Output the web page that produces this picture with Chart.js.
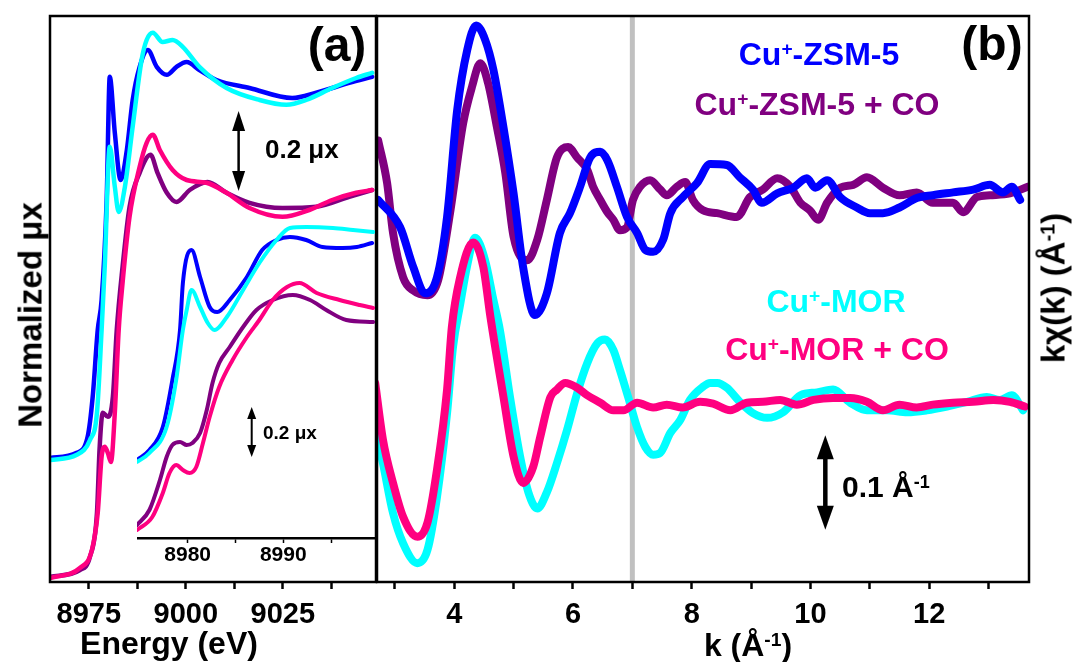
<!DOCTYPE html>
<html>
<head>
<meta charset="utf-8">
<script src="https://cdn.jsdelivr.net/npm/chart.js@4.4.1/dist/chart.umd.min.js"></script>
<style>
  body { margin: 0; background: #fff; }
  #wrap { position: relative; width: 1076px; height: 662px; overflow: hidden;
          font-family: 'Liberation Sans', Arial, sans-serif; font-weight: bold; color: #000; }
  canvas { position: absolute; }
  .t { position: absolute; white-space: nowrap; line-height: 1; transform: translate(-50%, -50%); }
  .l { position: absolute; white-space: nowrap; line-height: 1; transform: translateY(-50%); }
  .r { transform: translate(-50%, -50%) rotate(-90deg); }
  sup { font-size: 0.6em; position: relative; top: -0.5em; vertical-align: baseline; line-height: 0; }
</style>
</head>
<body>
<div id="wrap">
  <canvas id="cA" width="378" height="662" style="left:0;top:0"></canvas>
  <canvas id="cIn" width="240" height="380" style="left:137px;top:200px"></canvas>
  <canvas id="cB" width="706" height="662" style="left:370px;top:0"></canvas>

  <div class="t r" style="left:30px;top:315px;font-size:33px">Normalized &mu;x</div>
  <div class="t" style="left:169px;top:643px;font-size:32px">Energy (eV)</div>
  <div class="t" style="left:748px;top:645px;font-size:32px">k (&Aring;<sup>-1</sup>)</div>
  <div class="t r" style="left:1053px;top:288px;font-size:33px">k&chi;(k) (&Aring;<sup>-1</sup>)</div>
  <div class="t" style="left:337px;top:45px;font-size:48px">(a)</div>
  <div class="t" style="left:992px;top:44px;font-size:48px">(b)</div>

  <div class="t" style="left:819px;top:54px;font-size:32px;color:#0000FF">Cu<sup>+</sup>-ZSM-5</div>
  <div class="t" style="left:817px;top:104px;font-size:32px;color:#800080">Cu<sup>+</sup>-ZSM-5 + CO</div>
  <div class="t" style="left:836px;top:301px;font-size:32px;color:#00FFFF">Cu<sup>+</sup>-MOR</div>
  <div class="t" style="left:837px;top:349px;font-size:32px;color:#FF0080">Cu<sup>+</sup>-MOR + CO</div>

  <div class="l" style="left:265px;top:149px;font-size:26px">0.2 &mu;x</div>
  <div class="l" style="left:263px;top:432px;font-size:19px">0.2 &mu;x</div>
  <div class="l" style="left:842px;top:487px;font-size:30px">0.1 &Aring;<sup>-1</sup></div>
</div>

<script>
// ---- panel (a): XANES, main view (energy in eV, normalized mu x) ----
const eZsmA = [8965.0, 8971.9, 8974.7, 8976.0, 8977.3, 8978.3, 8979.6, 8980.4, 8981.7, 8983.2, 8984.8, 8986.3, 8988.1, 8990.2, 8992.5, 8995.1, 8997.6, 9000.2, 9003.5, 9007.9, 9016.4, 9027.4, 9033.6, 9042.1, 9048.0];
const muZsmA = [0.010, 0.023, 0.063, 0.163, 0.330, 0.405, 0.655, 0.963, 0.823, 0.705, 0.780, 0.905, 0.988, 1.030, 0.988, 0.968, 0.988, 1.000, 0.980, 0.955, 0.935, 0.910, 0.923, 0.948, 0.963];
const eMorA = [8965.0, 8971.9, 8975.3, 8977.1, 8978.3, 8979.1, 8980.4, 8981.7, 8982.7, 8984.3, 8986.3, 8988.6, 8989.9, 8991.5, 8994.0, 8996.6, 8999.2, 9003.5, 9010.5, 9019.0, 9025.9, 9031.0, 9037.7, 9043.9, 9048.0];
const muMorA = [0.005, 0.018, 0.055, 0.123, 0.330, 0.488, 0.788, 0.688, 0.625, 0.688, 0.838, 1.005, 1.055, 1.073, 1.050, 1.055, 1.038, 0.988, 0.935, 0.905, 0.893, 0.905, 0.935, 0.960, 0.973];
const eZsmCoA = [8965.0, 8972.7, 8975.3, 8977.1, 8977.8, 8978.6, 8979.9, 8981.2, 8982.2, 8983.7, 8985.5, 8988.1, 8990.9, 8992.7, 8995.1, 8997.6, 9001.0, 9005.6, 9010.5, 9016.4, 9024.9, 9033.6, 9042.1, 9048.0];
const muZsmCoA = [0.013, 0.030, 0.063, 0.173, 0.338, 0.423, 0.413, 0.463, 0.630, 0.788, 0.938, 1.023, 1.068, 1.023, 0.973, 0.950, 0.980, 1.000, 0.973, 0.948, 0.935, 0.938, 0.963, 0.980];
const eMorCoA = [8965.0, 8972.7, 8975.8, 8977.3, 8978.3, 8979.1, 8979.9, 8980.7, 8981.7, 8982.7, 8983.7, 8985.5, 8988.1, 8989.9, 8991.5, 8993.3, 8996.6, 9000.2, 9005.3, 9010.5, 9016.4, 9024.9, 9031.8, 9037.7, 9043.9, 9048.0];
const muMorCoA = [0.010, 0.035, 0.080, 0.173, 0.313, 0.338, 0.323, 0.300, 0.423, 0.630, 0.748, 0.913, 1.038, 1.098, 1.118, 1.080, 1.030, 1.005, 0.998, 0.973, 0.935, 0.913, 0.930, 0.955, 0.973, 0.980];
const offsetA = { bare: 0.3, co: 0 };
const ticksA = [8975, 8987.5, 9000, 9012.5, 9025, 9037.5];
const labelsA = [8975, 9000, 9025];

// ---- panel (a): inset, pre-edge zoom ----
const eZsmIn = [8974.7, 8976.0, 8977.4, 8978.4, 8979.2, 8979.5, 8980.4, 8981.3, 8982.3, 8983.1, 8984.4, 8986.2, 8987.8, 8989.3, 8990.7, 8992.4, 8994.1, 8996.2, 8997.7, 8999.3];
const muZsmIn = [0.012, 0.052, 0.144, 0.332, 0.532, 0.720, 0.852, 0.744, 0.624, 0.604, 0.652, 0.744, 0.852, 0.892, 0.904, 0.892, 0.864, 0.860, 0.864, 0.880];
const eMorIn = [8974.7, 8976.0, 8977.8, 8978.8, 8979.5, 8979.9, 8980.4, 8981.3, 8982.1, 8982.8, 8984.1, 8985.8, 8987.5, 8989.3, 8990.7, 8992.4, 8995.2, 8997.3, 8999.4];
const muMorIn = [0.004, 0.040, 0.144, 0.332, 0.532, 0.612, 0.692, 0.624, 0.560, 0.532, 0.584, 0.692, 0.800, 0.892, 0.940, 0.944, 0.940, 0.932, 0.924];
const eZsmCoIn = [8974.7, 8976.0, 8977.1, 8977.8, 8978.4, 8979.2, 8979.9, 8980.5, 8981.3, 8982.0, 8982.6, 8983.3, 8984.4, 8985.8, 8987.2, 8988.9, 8991.0, 8992.8, 8994.5, 8996.6, 8999.4];
const muZsmCoIn = [0.052, 0.112, 0.232, 0.324, 0.372, 0.384, 0.372, 0.380, 0.420, 0.512, 0.620, 0.700, 0.764, 0.844, 0.912, 0.952, 0.972, 0.952, 0.912, 0.872, 0.864];
const eMorCoIn = [8974.7, 8976.3, 8977.4, 8978.1, 8978.8, 8979.5, 8980.2, 8980.9, 8981.6, 8982.3, 8983.3, 8984.7, 8986.2, 8987.5, 8988.9, 8990.4, 8991.7, 8993.5, 8995.9, 8998.0, 8999.4];
const muMorCoIn = [0.032, 0.084, 0.180, 0.260, 0.292, 0.272, 0.260, 0.284, 0.380, 0.484, 0.604, 0.712, 0.804, 0.872, 0.952, 1.004, 1.020, 0.980, 0.952, 0.932, 0.920];
const offsetIn = { bare: 0.3, co: 0 };
const ticksIn = [8980, 8985, 8990, 8995];
const labelsIn = [8980, 8990];

// ---- panel (b): EXAFS k*chi(k) ----
const kZsm = [2.72, 3.09, 3.31, 3.51, 3.71, 3.88, 4.05, 4.22, 4.37, 4.52, 4.66, 4.83, 5.00, 5.16, 5.36, 5.56, 5.78, 5.95, 6.12, 6.29, 6.46, 6.58, 6.74, 6.91, 7.08, 7.22, 7.35, 7.52, 7.64, 7.85, 8.09, 8.31, 8.59, 8.81, 9.03, 9.18, 9.44, 9.71, 9.94, 10.08, 10.28, 10.50, 10.78, 11.00, 11.22, 11.50, 11.79, 12.06, 12.40, 12.74, 13.02, 13.24, 13.39, 13.53];
const chiZsm = [-0.005, -0.034, -0.076, -0.104, -0.087, -0.023, 0.090, 0.154, 0.180, 0.165, 0.133, 0.072, 0.002, -0.076, -0.127, -0.104, -0.040, -0.019, 0.009, 0.040, 0.046, 0.037, 0.009, -0.023, -0.040, -0.058, -0.060, -0.047, -0.019, -0.002, 0.013, 0.033, 0.032, 0.019, 0.006, -0.008, 0.002, 0.008, 0.018, 0.008, 0.016, -0.002, -0.013, -0.019, -0.019, -0.013, -0.003, 0.000, 0.003, 0.006, 0.011, 0.003, 0.009, -0.005];
const kZsmCo = [2.72, 2.87, 2.97, 3.14, 3.31, 3.55, 3.73, 3.93, 4.15, 4.30, 4.44, 4.57, 4.72, 4.86, 5.00, 5.23, 5.40, 5.56, 5.73, 5.92, 6.07, 6.24, 6.34, 6.46, 6.58, 6.68, 6.79, 6.91, 7.01, 7.13, 7.30, 7.47, 7.58, 7.75, 7.89, 8.02, 8.19, 8.43, 8.76, 8.98, 9.20, 9.44, 9.66, 9.83, 9.99, 10.13, 10.28, 10.50, 10.72, 10.95, 11.22, 11.50, 11.79, 12.06, 12.40, 12.57, 12.80, 13.02, 13.36, 13.66];
const chiZsmCo = [0.058, 0.013, -0.040, -0.087, -0.101, -0.106, -0.090, -0.019, 0.076, 0.115, 0.140, 0.119, 0.072, 0.024, -0.044, -0.069, -0.047, -0.005, 0.040, 0.051, 0.040, 0.027, 0.009, -0.005, -0.018, -0.026, -0.037, -0.034, -0.005, 0.009, 0.016, 0.006, 0.000, 0.009, 0.014, -0.005, -0.016, -0.019, -0.023, -0.002, 0.006, 0.018, 0.009, -0.008, -0.016, -0.026, -0.008, 0.008, 0.011, 0.019, 0.008, 0.000, 0.003, -0.008, -0.008, -0.018, -0.002, 0.000, 0.002, 0.009];
const kMor = [2.64, 2.80, 2.97, 3.14, 3.38, 3.55, 3.71, 3.88, 3.98, 4.10, 4.22, 4.35, 4.52, 4.66, 4.77, 4.94, 5.11, 5.25, 5.40, 5.56, 5.73, 5.90, 6.07, 6.24, 6.41, 6.54, 6.68, 6.79, 6.93, 7.08, 7.22, 7.35, 7.47, 7.64, 7.81, 7.97, 8.19, 8.31, 8.43, 8.59, 8.81, 9.03, 9.27, 9.54, 9.83, 10.11, 10.38, 10.67, 10.95, 11.29, 11.63, 11.96, 12.30, 12.64, 12.97, 13.19, 13.39, 13.58];
const chiMor = [-0.018, -0.064, -0.117, -0.149, -0.170, -0.156, -0.100, -0.011, 0.059, 0.104, 0.146, 0.175, 0.151, 0.109, 0.077, 0.006, -0.057, -0.095, -0.112, -0.095, -0.064, -0.029, 0.010, 0.042, 0.063, 0.067, 0.056, 0.035, 0.006, -0.026, -0.047, -0.055, -0.053, -0.032, -0.018, 0.003, 0.017, 0.021, 0.021, 0.016, 0.001, -0.011, -0.016, -0.010, 0.008, 0.011, 0.014, 0.000, -0.008, -0.008, -0.010, -0.008, -0.004, 0.001, 0.006, 0.003, 0.008, -0.008];
const kMorCo = [2.67, 2.80, 2.97, 3.14, 3.38, 3.55, 3.71, 3.88, 3.96, 4.10, 4.32, 4.49, 4.61, 4.83, 5.00, 5.16, 5.33, 5.45, 5.62, 5.73, 5.87, 6.07, 6.24, 6.46, 6.68, 6.85, 7.08, 7.35, 7.58, 7.85, 8.14, 8.36, 8.65, 8.93, 9.20, 9.49, 9.77, 10.05, 10.38, 10.67, 10.95, 11.22, 11.50, 11.79, 12.06, 12.40, 12.74, 13.08, 13.36, 13.61];
const chiMorCo = [0.021, -0.039, -0.085, -0.121, -0.142, -0.127, -0.071, 0.014, 0.080, 0.133, 0.170, 0.144, 0.091, 0.006, -0.057, -0.085, -0.068, -0.036, 0.006, 0.014, 0.021, 0.016, 0.008, 0.000, -0.008, -0.008, 0.000, -0.005, -0.002, -0.005, 0.001, -0.001, -0.008, 0.000, 0.001, 0.003, -0.002, 0.003, 0.005, 0.005, 0.001, -0.008, -0.002, -0.005, -0.002, 0.000, 0.001, 0.003, 0.001, -0.004];
const offsetB = { zsm: 0.11, mor: -0.11 };
const kWindowEnd = 7;
const ticksB = [3, 4, 5, 6, 7, 8, 9, 10, 11, 12, 13];
const labelsB = [4, 6, 8, 10, 12];

const BLUE = '#0000FF', PURPLE = '#800080', CYAN = '#00FFFF', PINK = '#FF0080';
const FONT = "'Liberation Sans', Arial, sans-serif";

function series(xs, ys, off, color, width, order) {
  return {
    data: xs.map((x, i) => ({ x: x, y: ys[i] + off })),
    borderColor: color, borderWidth: width, pointRadius: 0, fill: false,
    cubicInterpolationMode: 'monotone', borderCapStyle: 'round', borderJoinStyle: 'round',
    order: order
  };
}

// black box around the plot area
const framePlugin = {
  id: 'frame',
  afterDraw(chart, args, opts) {
    if (!opts.show) return;
    const a = chart.chartArea, c = chart.ctx;
    c.save();
    c.strokeStyle = '#000';
    c.lineWidth = opts.width;
    c.strokeRect(a.left, a.top, a.right - a.left, a.bottom - a.top);
    c.restore();
  }
};

// double-headed scale bar, placed in data units
const scaleBarPlugin = {
  id: 'scaleBar',
  afterDatasetsDraw(chart, args, o) {
    if (o.x === undefined) return;
    const px = chart.scales.x.getPixelForValue(o.x);
    const pLow = chart.scales.y.getPixelForValue(o.y0);
    const pHigh = chart.scales.y.getPixelForValue(o.y0 + o.len);
    const c = chart.ctx;
    c.save();
    c.strokeStyle = '#000';
    c.fillStyle = '#000';
    c.lineWidth = o.lineWidth;
    c.beginPath();
    c.moveTo(px, pHigh + o.head * 0.8);
    c.lineTo(px, pLow - o.head * 0.8);
    c.stroke();
    c.beginPath();
    c.moveTo(px, pHigh);
    c.lineTo(px - o.headWidth / 2, pHigh + o.head);
    c.lineTo(px + o.headWidth / 2, pHigh + o.head);
    c.closePath();
    c.fill();
    c.beginPath();
    c.moveTo(px, pLow);
    c.lineTo(px - o.headWidth / 2, pLow - o.head);
    c.lineTo(px + o.headWidth / 2, pLow - o.head);
    c.closePath();
    c.fill();
    c.restore();
  }
};

function xAxis(min, max, ticks, labels, height, fontSize, tickLen, tickWidth, pad, border) {
  return {
    type: 'linear', min: min, max: max,
    afterBuildTicks: s => { s.ticks = ticks.map(v => ({ value: v })); },
    afterFit: s => { s.height = height; },
    ticks: {
      autoSkip: false, maxRotation: 0, padding: pad, color: '#000',
      font: { family: FONT, size: fontSize, weight: 'bold', lineHeight: 1 },
      callback: v => labels.includes(v) ? String(v) : ''
    },
    grid: { drawOnChartArea: false, drawTicks: true, tickLength: tickLen, tickWidth: tickWidth, tickColor: '#000' },
    border: border ? { display: true, color: '#000', width: 2.5 } : { display: false }
  };
}

const common = { responsive: false, animation: false, devicePixelRatio: 1, events: [] };

new Chart(document.getElementById('cA'), {
  type: 'line',
  data: {
    datasets: [
      series(eMorCoA, muMorCoA, offsetA.co, PINK, 4.5, 0),
      series(eZsmCoA, muZsmCoA, offsetA.co, PURPLE, 4.5, 1),
      series(eMorA, muMorA, offsetA.bare, CYAN, 4.5, 2),
      series(eZsmA, muZsmA, offsetA.bare, BLUE, 4.5, 3)
    ]
  },
  options: Object.assign({}, common, {
    layout: { padding: { left: 50, right: 2, top: 16, bottom: 0 } },
    plugins: {
      legend: { display: false }, tooltip: { enabled: false },
      frame: { show: true, width: 2.5 },
      scaleBar: { x: 9013.6, y0: 0.9775, len: 0.2, lineWidth: 2.5, head: 20, headWidth: 13 }
    },
    scales: {
      x: xAxis(8965, 9049, ticksA, labelsA, 80, 29, 7, 2.5, 11, false),
      y: { display: false, min: 0, max: 1.415 }
    }
  }),
  plugins: [framePlugin, scaleBarPlugin]
});

new Chart(document.getElementById('cIn'), {
  type: 'line',
  data: {
    datasets: [
      series(eMorCoIn, muMorCoIn, offsetIn.co, PINK, 4, 0),
      series(eZsmCoIn, muZsmCoIn, offsetIn.co, PURPLE, 4, 1),
      series(eMorIn, muMorIn, offsetIn.bare, CYAN, 4, 2),
      series(eZsmIn, muZsmIn, offsetIn.bare, BLUE, 4, 3)
    ]
  },
  options: Object.assign({}, common, {
    layout: { padding: { left: 0, right: 2, top: 0, bottom: 0 } },
    plugins: {
      legend: { display: false }, tooltip: { enabled: false },
      scaleBar: { x: 8986.7, y0: 0.324, len: 0.2, lineWidth: 2, head: 12, headWidth: 9 }
    },
    scales: {
      x: xAxis(8974.7, 8999.6, ticksIn, labelsIn, 42, 21, 5, 1.5, 2, true),
      y: { display: false, min: 0, max: 1.352 }
    }
  }),
  plugins: [scaleBarPlugin]
});

const yMinB = -0.30, yMaxB = 0.30;
new Chart(document.getElementById('cB'), {
  type: 'line',
  data: {
    datasets: [
      series(kMorCo, chiMorCo, offsetB.mor, PINK, 8, 0),
      series(kMor, chiMor, offsetB.mor, CYAN, 8, 1),
      series(kZsm, chiZsm, offsetB.zsm, BLUE, 8, 2),
      series(kZsmCo, chiZsmCo, offsetB.zsm, PURPLE, 8, 3),
      {
        data: [{ x: kWindowEnd, y: yMinB }, { x: kWindowEnd, y: yMaxB }],
        borderColor: '#C0C0C0', borderWidth: 5, pointRadius: 0, tension: 0, order: 5
      }
    ]
  },
  options: Object.assign({}, common, {
    layout: { padding: { left: 7, right: 47, top: 16, bottom: 0 } },
    plugins: {
      legend: { display: false }, tooltip: { enabled: false },
      frame: { show: true, width: 2.5 },
      scaleBar: { x: 10.25, y0: -0.2445, len: 0.1, lineWidth: 4.5, head: 24, headWidth: 17 }
    },
    scales: {
      x: xAxis(2.70, 13.68, ticksB, labelsB, 80, 29, 7, 2.5, 11, false),
      y: { display: false, min: yMinB, max: yMaxB }
    }
  }),
  plugins: [framePlugin, scaleBarPlugin]
});
</script>
</body>
</html>
